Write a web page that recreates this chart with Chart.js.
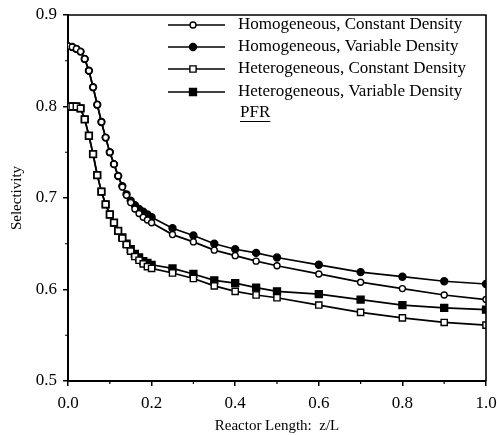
<!DOCTYPE html>
<html><head><meta charset="utf-8">
<script src="https://cdn.jsdelivr.net/npm/chart.js@4.4.1/dist/chart.umd.min.js"></script>
<style>html,body{margin:0;padding:0;background:#fff}#wrap{width:497px;height:435px}</style>
</head><body><div id="wrap"><canvas id="c" width="497" height="435"></canvas></div>
<script>
// ---- data ----
const zValues = [0,0.01,0.02,0.03,0.04,0.05,0.06,0.07,0.08,0.09,0.10,0.11,0.12,0.13,0.14,0.15,0.16,0.17,0.18,0.19,0.20,
                 0.25,0.30,0.35,0.40,0.45,0.50,0.60,0.70,0.80,0.90,1.00];
const homConstant = [0.866,0.865,0.863,0.860,0.852,0.839,0.821,0.802,0.783,0.766,0.750,0.737,0.724,0.712,0.703,0.695,0.688,0.683,0.679,0.676,0.673,
                     0.660,0.652,0.643,0.637,0.631,0.626,0.617,0.608,0.601,0.594,0.589];
const homVariable = [0.866,0.865,0.863,0.860,0.852,0.839,0.821,0.802,0.783,0.766,0.750,0.737,0.724,0.713,0.704,0.697,0.692,0.688,0.685,0.682,0.679,
                     0.667,0.659,0.650,0.644,0.640,0.635,0.627,0.619,0.614,0.609,0.606];
const hetConstant = [0.800,0.800,0.800,0.798,0.786,0.768,0.748,0.725,0.707,0.693,0.682,0.673,0.664,0.656,0.649,0.642,0.636,0.632,0.628,0.625,0.623,
                     0.618,0.612,0.604,0.598,0.594,0.591,0.583,0.575,0.569,0.564,0.561];
const hetVariable = [0.800,0.800,0.800,0.798,0.786,0.768,0.748,0.725,0.707,0.693,0.682,0.673,0.664,0.657,0.650,0.644,0.639,0.635,0.631,0.629,0.627,
                     0.623,0.617,0.610,0.607,0.602,0.598,0.595,0.589,0.583,0.580,0.578];
const seriesNames = ['Homogeneous, Constant Density','Homogeneous, Variable Density',
                     'Heterogeneous, Constant Density','Heterogeneous, Variable Density'];
const legendNote = 'PFR';
const xTickLabels = ['0.0','0.2','0.4','0.6','0.8','1.0'];
const yTickLabels = ['0.5','0.6','0.7','0.8','0.9'];
const xMinorTicks = [0.1,0.3,0.5,0.7,0.9];
const yMinorTicks = [0.55,0.65,0.75,0.85];
const xTitle = 'Reactor Length:  z/L';
const yTitle = 'Selectivity';

// ---- chart ----
const FAMILY = '"Liberation Serif","Times New Roman",serif';
const pts = arr => arr.map((v, i) => ({x: zValues[i], y: v}));
const styles = [
  {pointStyle: 'circle', pointRadius: 3, pointBackgroundColor: '#fff'},
  {pointStyle: 'circle', pointRadius: 3.5, pointBackgroundColor: '#000'},
  {pointStyle: 'rect', pointRadius: 4.4, pointBackgroundColor: '#fff'},
  {pointStyle: 'rect', pointRadius: 4.9, pointBackgroundColor: '#000'}
];
const seriesData = [homConstant, homVariable, hetConstant, hetVariable];
const datasets = seriesData.map((arr, i) => Object.assign({
  label: seriesNames[i],
  data: pts(arr),
  borderColor: '#000',
  borderWidth: 1.7,
  pointBorderColor: '#000',
  pointBorderWidth: 1.4,
  tension: 0
}, styles[i]));

const framePlugin = {
  id: 'frame',
  afterDraw(chart) {
    const {ctx, chartArea: a, scales} = chart;
    ctx.save();
    ctx.strokeStyle = '#000';
    ctx.lineWidth = 1.6;
    ctx.beginPath();
    ctx.moveTo(a.left, a.top); ctx.lineTo(a.right, a.top); ctx.lineTo(a.right, a.bottom);
    ctx.stroke();
    // minor ticks
    ctx.lineWidth = 1.2;
    ctx.beginPath();
    xMinorTicks.forEach(v => { const px = scales.x.getPixelForValue(v); ctx.moveTo(px, a.bottom); ctx.lineTo(px, a.bottom + 3); });
    yMinorTicks.forEach(v => { const py = scales.y.getPixelForValue(v); ctx.moveTo(a.left, py); ctx.lineTo(a.left - 3, py); });
    ctx.stroke();
    // legend
    const rows = [25, 47, 69, 92];
    ctx.font = '17px ' + FAMILY;
    ctx.fillStyle = '#000';
    ctx.textBaseline = 'middle';
    ctx.textAlign = 'left';
    chart.data.datasets.forEach((ds, i) => {
      const y = rows[i];
      ctx.lineWidth = ds.borderWidth;
      ctx.strokeStyle = ds.borderColor;
      ctx.beginPath(); ctx.moveTo(168, y); ctx.lineTo(225, y); ctx.stroke();
      ctx.fillStyle = ds.pointBackgroundColor; ctx.strokeStyle = '#000'; ctx.lineWidth = ds.pointBorderWidth;
      Chart.helpers.drawPoint(ctx, {pointStyle: ds.pointStyle, radius: ds.pointRadius, borderWidth: ds.pointBorderWidth, rotation: 0}, 193, y);
      ctx.fillStyle = '#000';
      ctx.fillText(ds.label, 238, y);
    });
    ctx.fillText(legendNote, 240, 113);
    const w = ctx.measureText(legendNote).width;
    ctx.lineWidth = 1;
    ctx.beginPath(); ctx.moveTo(240, 121.5); ctx.lineTo(240 + w, 121.5); ctx.stroke();
    ctx.restore();
  }
};

new Chart(document.getElementById('c'), {
  type: 'line',
  data: {datasets},
  plugins: [framePlugin],
  options: {
    responsive: false,
    devicePixelRatio: 1,
    animation: false,
    layout: {padding: {top: 15, right: 11, left: 0, bottom: 0}},
    plugins: {legend: {display: false}, tooltip: {enabled: false}},
    scales: {
      x: {
        type: 'linear', min: 0, max: 1,
        afterFit: s => { s.height = 54; s.paddingLeft = 0; s.paddingRight = 0; },
        border: {display: true, color: '#000', width: 2},
        grid: {drawOnChartArea: false, drawTicks: true, tickLength: 5, color: '#000', lineWidth: 1.5},
        ticks: {stepSize: 0.2, autoSkip: false, maxRotation: 0, padding: 7, color: '#000',
                font: {family: FAMILY, size: 17},
                callback: (v, i) => xTickLabels[i]},
        title: {display: true, text: xTitle, color: '#000', font: {family: FAMILY, size: 15}, padding: {top: 0, bottom: 0}}
      },
      y: {
        type: 'linear', min: 0.5, max: 0.9,
        afterFit: s => { s.width = 68; s.paddingTop = 0; s.paddingBottom = 0; },
        border: {display: true, color: '#000', width: 2},
        grid: {drawOnChartArea: false, drawTicks: true, tickLength: 5, color: '#000', lineWidth: 1.5},
        ticks: {stepSize: 0.1, autoSkip: false, padding: 6, color: '#000',
                font: {family: FAMILY, size: 17},
                callback: (v, i) => yTickLabels[i]},
        title: {display: true, text: yTitle, color: '#000', font: {family: FAMILY, size: 15}, padding: {top: 8, bottom: 0}}
      }
    }
  }
});
</script>
</body></html>
